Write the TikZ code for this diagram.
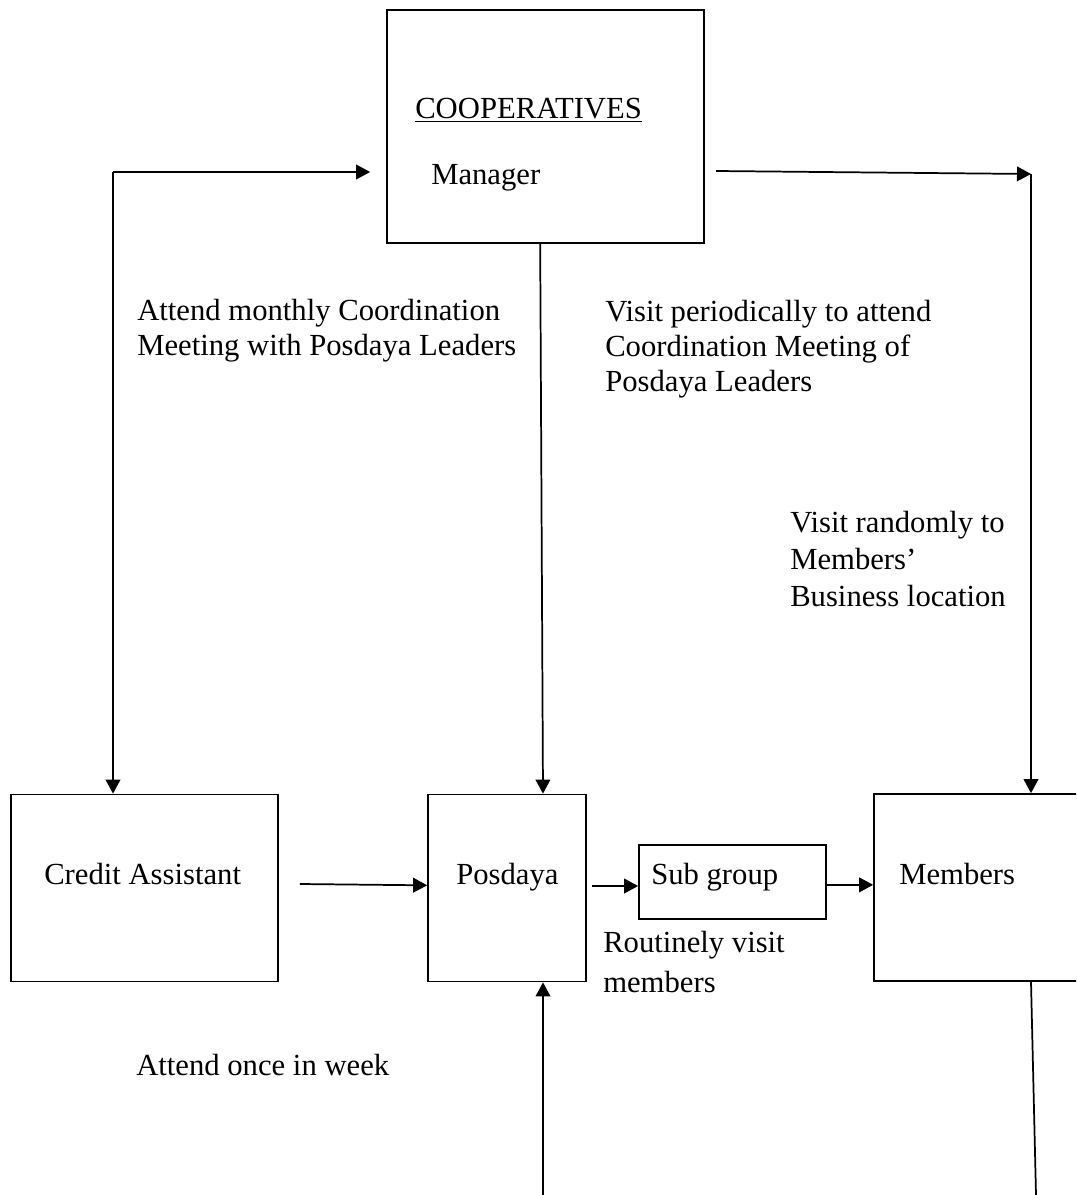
\documentclass[tikz,border=0pt]{standalone}
\usepackage{fontspec}
\setmainfont{Liberation Serif}
\usetikzlibrary{arrows.meta}
\begin{document}
\begin{tikzpicture}[x=0.75pt,y=-0.75pt,
  bx/.style={draw,line width=1.3pt,inner sep=0pt},
  arr/.style={line width=1.3pt,-{Triangle[length=10.5pt,width=11pt]}},
  ln/.style={line width=1.3pt},
  txt/.style={inner sep=0pt,anchor=base west,align=left,font=\fontsize{23}{26.25}\selectfont}]
\clip (0,0) rectangle (1076,1195);
\fill[white] (0,0) rectangle (1076,1195);
% boxes
\node[bx,minimum width=237.75pt,minimum height=174.75pt] (coop) at (545.5,126.5) {};
\node[bx,minimum width=200.25pt,minimum height=140.25pt] (ca) at (144.5,888) {};
\node[bx,minimum width=118.5pt,minimum height=140.25pt] (pos) at (507,888) {};
\node[bx,minimum width=140.25pt,minimum height=55.5pt] (sub) at (732.5,882) {};
\node[bx,minimum width=162pt,minimum height=140.25pt] (mem) at (982,887.5) {};
% box texts
\node[txt] (tcoop) at (415,119) {\underline{COOPERATIVES}};
\node[txt] (tman) at (431,185) {Manager};
\node[txt] (tca) at (44,884) {Credit Assistant};
\node[txt] (tpos) at (456,884) {Posdaya};
\node[txt] (tsub) at (651,884) {Sub group};
\node[txt] (tmem) at (899,884) {Members};
% labels (base anchor = baseline of last line)
\node[txt] (la) at (137,355) {Attend monthly Coordination\\Meeting with Posdaya Leaders};
\node[txt] (lb) at (605,391) {Visit periodically to attend\\Coordination Meeting of\\Posdaya Leaders};
\node[txt,font=\fontsize{23}{27.75}\selectfont] (lc) at (790,606) {Visit randomly to\\Members’\\Business location};
\node[txt,font=\fontsize{23}{30}\selectfont] (ld) at (603,992) {Routinely visit\\members};
\node[txt] (le) at (136,1075) {Attend once in week};
% connectors
\coordinate (l1) at (113,172);
\draw[arr] (l1) -- ([xshift=-12pt]coop.west |- l1);
\draw[arr] (l1) -- (l1 |- ca.north);
\coordinate (r0) at (716,171);
\coordinate (r1) at (1031,174);
\draw[arr] (r0) -- (r1);
\draw[arr] (r1) -- (r1 |- mem.north);
\draw[arr] ([xshift=-4pt]coop.south) -- ([xshift=27pt]pos.north);
\draw[arr] ([xshift=15.75pt,yshift=3pt]ca.east) -- ([yshift=2pt]pos.west);
\draw[arr] ([xshift=4pt,yshift=1.5pt]pos.east) -- ([yshift=-3pt]sub.west);
\draw[arr] ([yshift=-2.25pt]sub.east) -- ([yshift=2pt]mem.west);
\coordinate (b0) at (543,1195);
\draw[arr] (b0) -- (b0 |- pos.south);
\coordinate (b1) at (1036,1195);
\draw[ln] ([xshift=36.75pt]mem.south) -- (b1);
\end{tikzpicture}
\end{document}
